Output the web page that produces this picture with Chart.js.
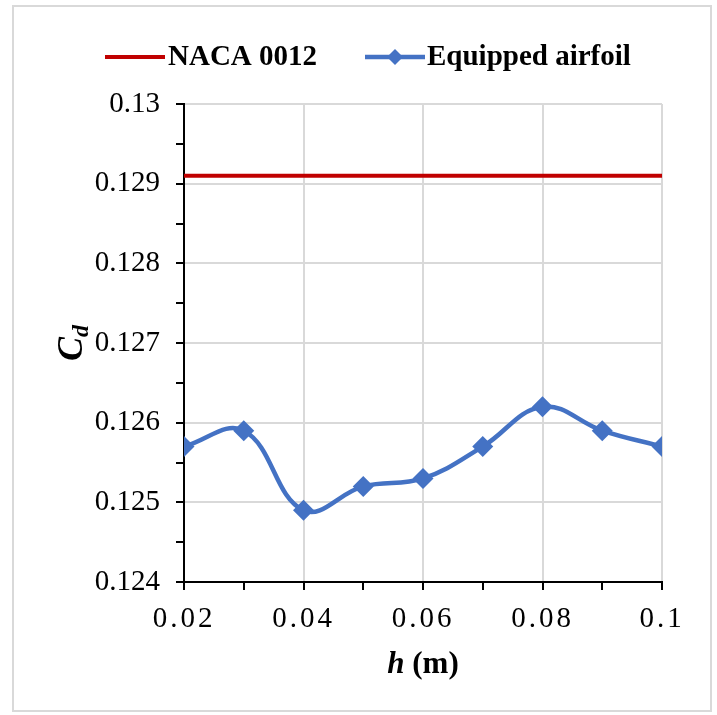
<!DOCTYPE html>
<html>
<head>
<meta charset="utf-8">
<script src="https://cdn.jsdelivr.net/npm/chart.js@4/dist/chart.umd.min.js"></script>
<style>
  html, body { margin: 0; padding: 0; background: #ffffff; }
  canvas { display: block; }
</style>
</head>
<body>
<canvas id="chart" width="717" height="715"></canvas>
<script>
// Drag coefficient against gap height h
const hValues = [0.02, 0.03, 0.04, 0.05, 0.06, 0.07, 0.08, 0.09, 0.1];
const cdNaca = [0.1291, 0.1291, 0.1291, 0.1291, 0.1291, 0.1291, 0.1291, 0.1291, 0.1291];
const cdEquipped = [0.1257, 0.1259, 0.1249, 0.1252, 0.1253, 0.1257, 0.1262, 0.1259, 0.1257];
const seriesNames = ['NACA 0012', 'Equipped airfoil'];
const xTickLabels = ['0.02', '0.04', '0.06', '0.08', '0.1'];
const yTickLabels = ['0.124', '0.125', '0.126', '0.127', '0.128', '0.129', '0.13'];

const SERIF = "'Liberation Serif', 'Times New Roman', serif";
const GRID = '#d9d9d9';

function labelFor(list, v) {
  const hit = list.find(s => Math.abs(parseFloat(s) - v) < 1e-9);
  return hit === undefined ? '' : hit;
}
function isMajor(list, v) { return labelFor(list, v) !== ''; }

// Linear scale whose tick labels are drawn with a little letter spacing
class SpacedLinearScale extends Chart.LinearScale {
  drawLabels(chartArea) {
    const ctx = this.ctx;
    ctx.save();
    ctx.letterSpacing = '3px';
    super.drawLabels(chartArea);
    ctx.restore();
  }
}
SpacedLinearScale.id = 'spacedLinear';
SpacedLinearScale.defaults = Chart.LinearScale.defaults;
Chart.register(SpacedLinearScale);

const frame = {
  id: 'frame',
  beforeDraw(chart) {
    const ctx = chart.ctx;
    ctx.save();
    ctx.fillStyle = '#ffffff';
    ctx.fillRect(0, 0, chart.width, chart.height);
    ctx.strokeStyle = GRID;
    ctx.lineWidth = 2;
    ctx.strokeRect(13, 6, 698, 705);
    ctx.restore();
  }
};

const decorations = {
  id: 'decorations',
  afterDraw(chart) {
    const ctx = chart.ctx;
    const area = chart.chartArea;
    const ds = chart.data.datasets;
    ctx.save();

    // legend
    const ly = 57;
    ctx.textBaseline = 'middle';
    ctx.textAlign = 'left';
    ctx.fillStyle = '#000';
    ctx.font = 'bold 29px ' + SERIF;
    ctx.lineCap = 'butt';

    ctx.strokeStyle = ds[0].borderColor;
    ctx.lineWidth = 4;
    ctx.beginPath(); ctx.moveTo(105, ly); ctx.lineTo(165, ly); ctx.stroke();
    ctx.fillText(ds[0].label, 168, ly + 1);

    ctx.strokeStyle = ds[1].borderColor;
    ctx.lineWidth = 4.5;
    ctx.beginPath(); ctx.moveTo(365, ly); ctx.lineTo(425, ly); ctx.stroke();
    ctx.fillStyle = ds[1].borderColor;
    ctx.beginPath();
    ctx.moveTo(395, ly - 8); ctx.lineTo(403, ly); ctx.lineTo(395, ly + 8); ctx.lineTo(387, ly);
    ctx.closePath(); ctx.fill();
    ctx.fillStyle = '#000';
    ctx.fillText(ds[1].label, 427, ly + 1);

    // x axis title: h (m)
    const cx = (area.left + area.right) / 2;
    ctx.font = 'italic bold 31px ' + SERIF;
    const wh = ctx.measureText('h').width;
    ctx.font = 'bold 31px ' + SERIF;
    const wm = ctx.measureText(' (m)').width;
    const x0 = cx - (wh + wm) / 2;
    ctx.textBaseline = 'alphabetic';
    ctx.font = 'italic bold 31px ' + SERIF;
    ctx.fillText('h', x0, 673);
    ctx.font = 'bold 31px ' + SERIF;
    ctx.fillText(' (m)', x0 + wh, 673);

    // y axis title: C_d
    const cy = (area.top + area.bottom) / 2;
    ctx.translate(82, cy);
    ctx.rotate(-Math.PI / 2);
    ctx.font = 'italic bold 36px ' + SERIF;
    const wc = ctx.measureText('C').width;
    ctx.font = 'italic bold 24px ' + SERIF;
    const wd = ctx.measureText('d').width;
    const s = -(wc + wd) / 2;
    ctx.font = 'italic bold 36px ' + SERIF;
    ctx.fillText('C', s, 0);
    ctx.font = 'italic bold 24px ' + SERIF;
    ctx.fillText('d', s + wc, 6);

    ctx.restore();
  }
};

new Chart(document.getElementById('chart'), {
  type: 'line',
  data: {
    datasets: [
      {
        label: seriesNames[0],
        data: hValues.map((h, i) => ({ x: h, y: cdNaca[i] })),
        borderColor: '#C00000',
        backgroundColor: '#C00000',
        borderWidth: 4,
        pointRadius: 0,
        tension: 0
      },
      {
        label: seriesNames[1],
        data: hValues.map((h, i) => ({ x: h, y: cdEquipped[i] })),
        borderColor: '#4472C4',
        backgroundColor: '#4472C4',
        borderWidth: 4.5,
        pointStyle: 'rectRot',
        pointRadius: 10.5,
        pointBorderWidth: 0,
        tension: 0.4
      }
    ]
  },
  options: {
    responsive: false,
    animation: false,
    devicePixelRatio: 1,
    layout: { padding: { top: 104, right: 55, bottom: 0, left: 0 } },
    plugins: { legend: { display: false }, tooltip: { enabled: false } },
    scales: {
      x: {
        type: 'spacedLinear',
        min: 0.02,
        max: 0.1,
        afterFit(scale) { scale.height = 133; },
        ticks: {
          stepSize: 0.01,
          autoSkip: false,
          maxRotation: 0,
          padding: 12,
          color: '#000',
          font: { family: SERIF, size: 29 },
          callback: v => labelFor(xTickLabels, v)
        },
        grid: {
          color: c => (c.tick && isMajor(xTickLabels, c.tick.value)) ? GRID : 'rgba(0,0,0,0)',
          lineWidth: 2,
          tickColor: '#000',
          tickLength: 8,
          tickWidth: 2
        },
        border: { color: '#000', width: 2 }
      },
      y: {
        min: 0.124,
        max: 0.13,
        afterFit(scale) { scale.width = 184; },
        ticks: {
          stepSize: 0.0005,
          autoSkip: false,
          padding: 16,
          color: '#000',
          font: { family: SERIF, size: 29 },
          callback: v => labelFor(yTickLabels, v)
        },
        grid: {
          color: c => (c.tick && isMajor(yTickLabels, c.tick.value)) ? GRID : 'rgba(0,0,0,0)',
          lineWidth: 2,
          tickColor: '#000',
          tickLength: 8,
          tickWidth: 2
        },
        border: { color: '#000', width: 2 }
      }
    }
  },
  plugins: [frame, decorations]
});
</script>
</body>
</html>
